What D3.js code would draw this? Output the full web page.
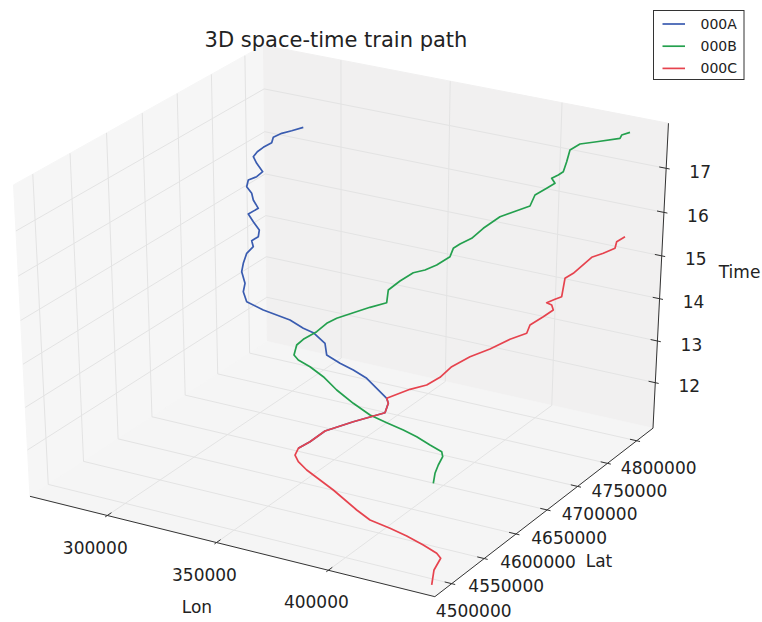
<!DOCTYPE html>
<html>
<head>
<meta charset="utf-8">
<script src="https://cdn.jsdelivr.net/npm/d3@7"></script>
<style>
  body { margin: 0; background: #fff; }
  svg { display: block; }
  text { font-family: "DejaVu Sans", sans-serif; fill: #222; }
</style>
</head>
<body>
<svg id="chart" width="762" height="622"></svg>
<script>
// ---- data (lon / lat in metres, time in hours) ----
const trains = ['000A', '000B', '000C']
const colors = ['#3a5cb0', '#24a04e', '#e6434e']

const timeA = [12.50, 12.60, 12.73, 12.95, 13.19, 13.26, 13.30, 13.46, 13.61, 13.79, 13.95, 14.12, 14.25, 14.43, 14.55, 14.72, 15.03, 15.24, 15.36, 15.45, 15.59, 15.68, 15.80, 15.90, 15.97, 16.05, 16.13, 16.24, 16.34, 16.47, 16.58, 16.65, 16.74, 16.82, 16.92, 17.00, 17.12, 17.20, 17.27, 17.35, 17.46, 17.52, 17.62, 17.74, 17.87]
const lonA = [365241, 368047, 370599, 380152, 391378, 389421, 387308, 382441, 377358, 372606, 368267, 363367, 359766, 354457, 351543, 346663, 339663, 334679, 331107, 329357, 325403, 323590, 322223, 323276, 321178, 323157, 321788, 317914, 314450, 317871, 314318, 311789, 308662, 307445, 310941, 312165, 308433, 305568, 305858, 307421, 310450, 309443, 312558, 317529, 322829]
const latA = [4545865, 4553949, 4567804, 4578185, 4587854, 4599503, 4604275, 4605622, 4607695, 4603514, 4598140, 4594687, 4604160, 4604430, 4599293, 4595810, 4579839, 4572107, 4578812, 4586986, 4595063, 4603299, 4612749, 4619057, 4623554, 4626868, 4632826, 4636674, 4640636, 4644332, 4648600, 4654482, 4657333, 4663670, 4664801, 4669712, 4673084, 4677414, 4682423, 4686261, 4688898, 4694583, 4696914, 4695534, 4695368]

const timeB = [13.37, 13.44, 13.50, 13.56, 13.60, 13.69, 13.80, 13.90, 14.03, 14.15, 14.29, 14.44, 14.57, 14.68, 14.77, 14.82, 14.89, 14.95, 15.05, 15.14, 15.21, 15.33, 15.45, 15.56, 15.65, 15.76, 15.87, 15.95, 16.05, 16.16, 16.22, 16.28, 16.37, 16.48, 16.63, 16.75, 16.85, 16.94, 17.04, 17.11, 17.15, 17.20, 17.25, 17.32, 17.41, 17.49, 17.61, 17.78, 17.81, 17.87]
const lonB = [443061, 440559, 439116, 438018, 436244, 431205, 425310, 419902, 413786, 407244, 399235, 390672, 382676, 375837, 370682, 367904, 365370, 366030, 368866, 369961, 372315, 377655, 383125, 388765, 384957, 386758, 389440, 393730, 397311, 399995, 398213, 399604, 402620, 403884, 406922, 412117, 416389, 414510, 417247, 419044, 416298, 417942, 419052, 416660, 413786, 415861, 422987, 432852, 432414, 435155]
const latB = [4481870, 4493045, 4502929, 4513277, 4517941, 4517941, 4518486, 4517183, 4513565, 4511251, 4513861, 4518401, 4525591, 4529000, 4529110, 4532056, 4544317, 4551749, 4561930, 4572955, 4579813, 4586402, 4592667, 4598310, 4613667, 4625021, 4635797, 4638620, 4643860, 4654669, 4665928, 4671266, 4678559, 4691909, 4706889, 4714209, 4719520, 4734089, 4742502, 4749018, 4753725, 4758144, 4761970, 4776109, 4791853, 4800213, 4800548, 4801065, 4805427, 4808496]

const timeC = [11.00, 11.10, 11.20, 11.24, 11.35, 11.48, 11.61, 11.76, 11.87, 12.09, 12.32, 12.40, 12.45, 12.50, 12.60, 12.73, 12.95, 13.19, 13.26, 13.30, 13.48, 13.60, 13.70, 13.82, 13.96, 14.11, 14.27, 14.39, 14.46, 14.57, 14.65, 14.69, 14.73, 14.79, 14.84, 14.97, 15.04, 15.21, 15.29, 15.38, 15.43, 15.50]
const lonC = [442436, 438567, 437541, 434783, 428758, 421730, 415237, 407771, 400966, 388333, 374731, 369616, 366334, 365241, 368047, 370599, 380152, 391378, 389421, 387308, 394499, 400494, 403315, 404621, 408838, 414931, 420273, 425456, 424033, 426781, 428572, 426453, 424477, 426868, 428899, 423793, 425619, 427576, 431218, 434612, 433001, 434828]
const latC = [4483905, 4500757, 4514408, 4517911, 4518426, 4517525, 4514616, 4510083, 4513276, 4520946, 4526897, 4531433, 4537391, 4545865, 4553949, 4567804, 4578185, 4587854, 4599503, 4604275, 4615021, 4619779, 4630344, 4643757, 4657231, 4666714, 4678860, 4686415, 4696700, 4707757, 4717115, 4722213, 4721293, 4725784, 4729030, 4752913, 4759540, 4782044, 4787362, 4793741, 4802505, 4809237]

// axis limits and ticks
const lonLim = [263870, 446520]
const latLim = [4474525, 4828340]
const timeLim = [10.894, 18.008]
const lonTicks = [300000, 350000, 400000]
const latTicks = [4500000, 4550000, 4600000, 4650000, 4700000, 4750000, 4800000]
const timeTicks = [12, 13, 14, 15, 16, 17]

const series = [
  { name: trains[0], color: colors[0], time: timeA, lon: lonA, lat: latA },
  { name: trains[1], color: colors[1], time: timeB, lon: lonB, lat: latB },
  { name: trains[2], color: colors[2], time: timeC, lon: lonC, lat: latC },
]

// ---- 3D projection (elev 30, azim -60, perspective like mplot3d) ----
const x = d3.scaleLinear().domain(lonLim).range([-0.5, 0.5])
const y = d3.scaleLinear().domain(latLim).range([-0.5, 0.5])
const z = d3.scaleLinear().domain(timeLim).range([-0.5, 0.5])
const screenX = d3.scaleLinear().domain([0, 0.1]).range([346.3, 813.67])
const screenY = d3.scaleLinear().domain([0, 0.1]).range([311.5, -44.1])

const elev = 30 * Math.PI / 180
const azim = -60 * Math.PI / 180
const dist = 10
const dot = (a, b) => a[0] * b[0] + a[1] * b[1] + a[2] * b[2]
const cross = (a, b) => [a[1] * b[2] - a[2] * b[1], a[2] * b[0] - a[0] * b[2], a[0] * b[1] - a[1] * b[0]]
const unit = a => { const m = Math.hypot(...a); return a.map(d => d / m) }
const nv = [Math.cos(azim) * Math.cos(elev), Math.sin(azim) * Math.cos(elev), Math.sin(elev)]
const uv = unit(cross([0, 0, 1], nv))
const vv = cross(nv, uv)

function project([lon, lat, t]) {
  const p = [x(lon), y(lat), z(t)]
  const w = dist - dot(nv, p)
  return [screenX(dot(uv, p) / w), screenY(dot(vv, p) / w)]
}

const line3d = d3.line().x(d => project(d)[0]).y(d => project(d)[1])

const svg = d3.select('#chart')
const [x0, x1] = lonLim, [y0, y1] = latLim, [z0, z1] = timeLim

// Panes
const panes = [
  { pts: [[x0, y0, z0], [x0, y1, z0], [x0, y1, z1], [x0, y0, z1]], fill: '#f6f6f6' },
  { pts: [[x0, y1, z0], [x1, y1, z0], [x1, y1, z1], [x0, y1, z1]], fill: '#f1f0f0' },
  { pts: [[x0, y0, z0], [x1, y0, z0], [x1, y1, z0], [x0, y1, z0]], fill: '#f5f5f5' },
]
svg.append('g')
  .selectAll('path')
  .data(panes)
  .join('path')
  .attr('d', d => line3d(d.pts) + 'Z')
  .attr('fill', d => d.fill)
  .attr('stroke', d => d.fill)

// Grid
const grid = [
  ...lonTicks.map(v => [[v, y0, z0], [v, y1, z0], [v, y1, z1]]),
  ...latTicks.map(v => [[x0, v, z1], [x0, v, z0], [x1, v, z0]]),
  ...timeTicks.map(v => [[x1, y1, v], [x0, y1, v], [x0, y0, v]]),
]
svg.append('g')
  .selectAll('path')
  .data(grid)
  .join('path')
  .attr('d', d => line3d(d))
  .attr('fill', 'none')
  .attr('stroke', '#e3e3e3')
  .attr('stroke-width', 1)

// Axis lines
const axisLines = [
  [[x0, y0, z0], [x1, y0, z0]],
  [[x1, y0, z0], [x1, y1, z0]],
  [[x1, y1, z0], [x1, y1, z1]],
]
svg.append('g')
  .selectAll('path')
  .data(axisLines)
  .join('path')
  .attr('d', d => line3d(d))
  .attr('fill', 'none')
  .attr('stroke', '#333')
  .attr('stroke-width', 1)

// Tick marks (outward 0.1, inward 0.2 of range/12, as mplot3d)
const dLat = (y1 - y0) / 12, dLon = (x1 - x0) / 12
const tickMarks = [
  ...lonTicks.map(v => [[v, y0 - 0.1 * dLat, z0], [v, y0 + 0.2 * dLat, z0]]),
  ...latTicks.map(v => [[x1 + 0.1 * dLon, v, z0], [x1 - 0.2 * dLon, v, z0]]),
  ...timeTicks.map(v => [[x1 + 0.1 * dLon, y1, v], [x1 - 0.2 * dLon, y1, v]]),
]
svg.append('g')
  .selectAll('path')
  .data(tickMarks)
  .join('path')
  .attr('d', d => line3d(d))
  .attr('stroke', '#333')
  .attr('stroke-width', 1)

// Train paths
svg.append('g')
  .selectAll('path')
  .data(series)
  .join('path')
  .attr('d', s => line3d(s.time.map((t, i) => [s.lon[i], s.lat[i], t])))
  .attr('fill', 'none')
  .attr('stroke', s => s.color)
  .attr('stroke-width', 1.7)
  .attr('stroke-linejoin', 'round')

// Tick labels
const tickLabels = [
  ...lonTicks.map(v => ({ text: v, pos: project([v, y0, z0]), dx: -12, dy: 32 })),
  ...latTicks.map(v => ({ text: v, pos: project([x1, v, z0]), dx: 22, dy: 27.5 })),
  ...timeTicks.map(v => ({ text: v, pos: project([x1, y1, v]), dx: 34, dy: 3.5 })),
]
svg.append('g')
  .selectAll('text')
  .data(tickLabels)
  .join('text')
  .attr('x', d => d.pos[0] + d.dx)
  .attr('y', d => d.pos[1] + d.dy)
  .attr('dy', '0.36em')
  .attr('text-anchor', 'middle')
  .attr('font-size', '17px')
  .text(d => d.text)

// Axis labels
const axisLabels = [
  { text: 'Lon', pos: project([(x0 + x1) / 2, y0, z0]), dx: -31, dy: 61 },
  { text: 'Lat', pos: project([x1, (y0 + y1) / 2, z0]), dx: 51, dy: 52 },
  { text: 'Time', pos: project([x1, y1, (z0 + z1) / 2]), dx: 79, dy: -8 },
]
svg.append('g')
  .selectAll('text')
  .data(axisLabels)
  .join('text')
  .attr('x', d => d.pos[0] + d.dx)
  .attr('y', d => d.pos[1] + d.dy)
  .attr('dy', '0.36em')
  .attr('text-anchor', 'middle')
  .attr('font-size', '17px')
  .text(d => d.text)

// Title
svg.append('text')
  .attr('x', 336)
  .attr('y', 47.3)
  .attr('text-anchor', 'middle')
  .attr('font-size', '21px')
  .text('3D space-time train path')

// Legend
const legend = svg.append('g').attr('transform', 'translate(653.5,10.5)')
legend.append('rect')
  .attr('width', 90.5)
  .attr('height', 69)
  .attr('fill', '#fff')
  .attr('stroke', '#333')
  .attr('stroke-width', 1)
const item = legend.selectAll('g')
  .data(series)
  .join('g')
  .attr('transform', (d, i) => `translate(0,${13.5 + i * 22.2})`)
item.append('line')
  .attr('x1', 9).attr('x2', 31.5)
  .attr('stroke', d => d.color)
  .attr('stroke-width', 1.7)
item.append('text')
  .attr('x', 47)
  .attr('dy', '0.36em')
  .attr('font-size', '14px')
  .text(d => d.name)
</script>
</body>
</html>
